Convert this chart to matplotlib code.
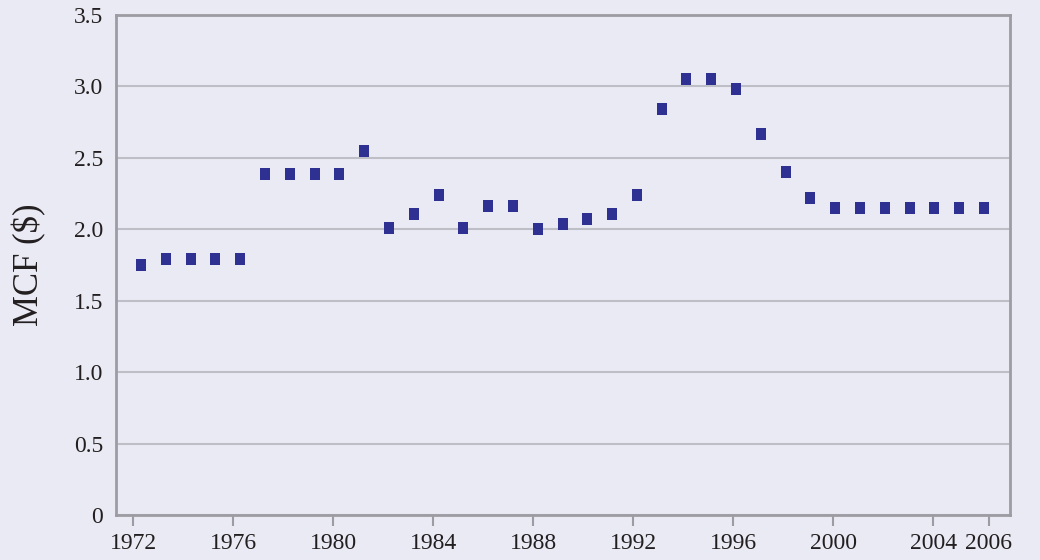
import matplotlib
matplotlib.use("Agg")
import matplotlib.pyplot as plt

years = list(range(1972, 2007))
mcf = [1.75, 1.79, 1.79, 1.79, 1.79, 2.39, 2.39, 2.39, 2.39, 2.55,
       2.01, 2.11, 2.24, 2.01, 2.16, 2.16, 2.00, 2.04, 2.07, 2.11,
       2.24, 2.84, 3.05, 3.05, 2.98, 2.67, 2.40, 2.22, 2.15, 2.15,
       2.15, 2.15, 2.15, 2.15, 2.15]
tick_years = [1972, 1976, 1980, 1984, 1988, 1992, 1996, 2000, 2004, 2006.22]
tick_labels = ["1972", "1976", "1980", "1984", "1988", "1992", "1996",
               "2000", "2004", "2006"]
y_ticks = [0, 0.5, 1.0, 1.5, 2.0, 2.5, 3.0, 3.5]
y_labels = ["0", "0.5", "1.0", "1.5", "2.0", "2.5", "3.0", "3.5"]

bg = "#eaeaf4"
frame = "#9c9ca2"
grid = "#bebec6"
text = "#231f20"
blue = "#2e3192"

plt.rcParams["font.family"] = ["Liberation Serif", "DejaVu Serif"]

fig = plt.figure(figsize=(10.4, 5.6), dpi=100, facecolor=bg)
ax = fig.add_axes([0.1113, 0.0804, 0.8599, 0.8928], facecolor=bg)

rect = [(-5, -6), (5, -6), (5, 6), (-5, 6), (-5, -6)]
ax.plot(years, mcf, linestyle="none", marker=rect, markersize=8.64,
        color=blue, markeredgewidth=0, zorder=3)

ax.set_xlim(1970.98, 2007.05)
ax.set_ylim(0, 3.5)
ax.set_yticks(y_ticks)
ax.set_yticklabels(y_labels)
ax.yaxis.grid(True, color=grid, linewidth=1.5)
ax.set_axisbelow(True)
ax.tick_params(axis="y", length=0, pad=9, labelsize=17, labelcolor=text)
ax.set_xticks([])

# tick axis drawn on a slightly different linear scale than the markers
def to_tick(p):
    return 1972.308 + 0.9916 * (p - 1972)


def from_tick(t):
    return 1972 + (t - 1972.308) / 0.9916


sec = ax.secondary_xaxis("bottom", functions=(to_tick, from_tick))
sec.set_xticks(tick_years)
sec.set_xticklabels(tick_labels)
sec.tick_params(axis="x", length=8, width=1.5, color=frame, pad=5,
                labelsize=17, labelcolor=text)
sec.spines["bottom"].set_visible(False)

for side in ["left", "right", "top", "bottom"]:
    ax.spines[side].set_color(frame)
    ax.spines[side].set_linewidth(2)

ax.set_ylabel("MCF ($)", fontsize=25, color=text, labelpad=20)

fig.savefig("out.png", dpi=100, facecolor=bg)
